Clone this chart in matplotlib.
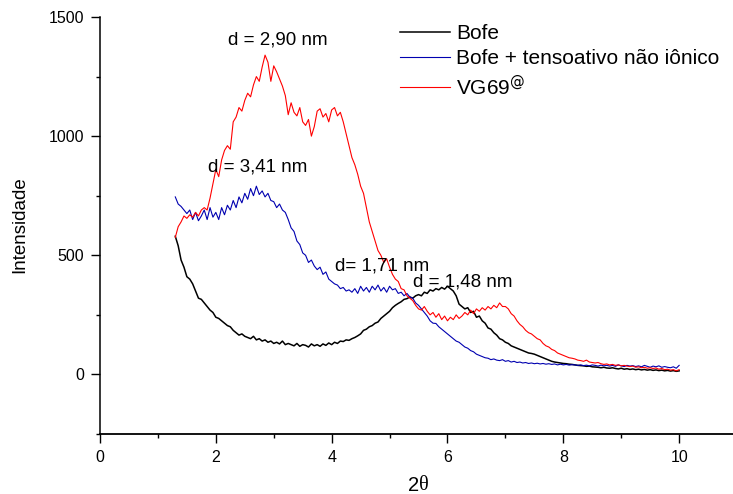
import numpy as np
import matplotlib.pyplot as plt
from matplotlib.ticker import MultipleLocator

plt.rcParams['font.family'] = ['Liberation Sans', 'DejaVu Sans']

# 2theta scan, 1.30 to 10.00 in 0.05 steps
bofe = [580, 540, 480, 450, 410, 400, 380, 350, 320, 315,
        300, 285, 270, 260, 240, 235, 225, 215, 205, 200,
        185, 175, 165, 170, 160, 155, 150, 160, 145, 150,
        140, 145, 135, 140, 130, 135, 128, 140, 125, 130,
        125, 120, 130, 118, 125, 122, 115, 128, 120, 125,
        118, 128, 122, 132, 125, 135, 130, 140, 138, 145,
        143, 150, 155, 162, 170, 185, 190, 200, 205, 215,
        220, 235, 245, 255, 265, 280, 290, 298, 305, 315,
        318, 325, 320, 330, 335, 330, 345, 340, 355, 350,
        360, 355, 365, 358, 370, 360, 350, 330, 295, 285,
        275, 280, 260, 265, 240, 245, 225, 215, 195, 190,
        175, 165, 150, 145, 135, 130, 120, 115, 110, 105,
        100, 95, 90, 88, 85, 80, 75, 70, 65, 60,
        55, 52, 50, 48, 46, 45, 43, 42, 40, 38,
        37, 36, 34, 35, 32, 31, 30, 28, 30, 27,
        26, 28, 25, 23, 26, 22, 24, 21, 23, 20,
        22, 19, 21, 18, 20, 17, 19, 16, 18, 15,
        17, 14, 16, 13, 15]

bofe_tensoativo = [745, 715, 705, 690, 675, 690, 650, 680, 645, 665,
                   690, 650, 700, 660, 680, 650, 700, 670, 710, 690,
                   730, 700, 745, 720, 760, 735, 780, 750, 790, 755,
                   770, 745, 760, 730, 725, 700, 715, 690, 680, 650,
                   615, 600, 560, 545, 510, 500, 470, 480, 455, 440,
                   450, 420, 430, 400, 390, 380, 375, 360, 365, 350,
                   355, 345, 360, 340, 370, 350, 365, 345, 370, 355,
                   375, 350, 365, 345, 370, 355, 360, 340, 345, 330,
                   340, 325, 320, 300, 290, 275, 260, 245, 225, 215,
                   214, 200, 190, 180, 170, 160, 150, 140, 135, 125,
                   115, 110, 100, 95, 85, 80, 75, 70, 68, 62,
                   65, 60, 58, 62, 55, 58, 52, 55, 50, 52,
                   48, 50, 46, 48, 45, 47, 44, 46, 43, 45,
                   42, 44, 40, 43, 40, 42, 39, 41, 40, 38,
                   40, 37, 39, 36, 40, 38, 35, 39, 36, 38,
                   35, 38, 34, 40, 36, 33, 38, 35, 37, 33,
                   36, 32, 38, 34, 30, 35, 32, 36, 30, 33,
                   30, 28, 32, 26, 38]

vg69 = [575, 620, 640, 665, 655, 670, 660, 680, 665, 690,
        700, 690, 740, 800, 860, 830, 900, 940, 960, 945,
        1060, 1080, 1120, 1105, 1150, 1180, 1165, 1215, 1250, 1230,
        1290, 1340, 1310, 1230, 1295, 1270, 1240, 1210, 1170, 1090,
        1140, 1100, 1085, 1120, 1060, 1045, 1070, 1000, 1040, 1105,
        1115, 1080, 1095, 1060, 1110, 1120, 1085, 1100, 1060, 1010,
        960, 910, 880, 840, 790, 760, 700, 640, 600, 560,
        520, 500, 470, 485, 450, 420, 400, 390, 360, 355,
        330, 320, 310, 290, 275, 270, 285, 265, 250, 260,
        240, 255, 230, 245, 225, 240, 230, 250, 235, 245,
        260, 250, 270, 255, 275, 265, 280, 270, 285, 275,
        290, 280, 300, 285, 285, 275, 255, 245, 225, 210,
        200, 185, 175, 170, 160, 150, 145, 130, 120, 115,
        105, 100, 90, 85, 80, 75, 70, 68, 65, 60,
        58, 55, 60, 52, 50, 48, 50, 45, 42, 44,
        40, 42, 38, 40, 36, 38, 35, 33, 35, 30,
        32, 28, 30, 26, 28, 25, 27, 22, 25, 20,
        22, 18, 20, 15, 20]

two_theta = np.linspace(1.3, 10.0, len(bofe))

labels = ['Bofe', 'Bofe + tensoativo não iônico', 'VG69$^{@}$']
peaks = ['d = 2,90 nm', 'd = 3,41 nm', 'd= 1,71 nm', 'd = 1,48 nm']
peak_pos = [(3.07, 1403), (2.72, 869), (4.88, 454), (6.26, 386)]

fig = plt.figure(figsize=(7.33, 4.94), dpi=100)
ax = fig.add_axes([100 / 733, 60 / 494, 633 / 733, 417 / 494])

ax.plot(two_theta, bofe, color='black', lw=1.1, label=labels[0])
ax.plot(two_theta, bofe_tensoativo, color='#0000b0', lw=0.8, label=labels[1])
ax.plot(two_theta, vg69, color='#ff0000', lw=0.8, label=labels[2])

for txt, (x, y) in zip(peaks, peak_pos):
    ax.text(x, y, txt, ha='center', va='center', fontsize=13.5)

ax.set_xlim(0, 10.93)
ax.set_ylim(-250, 1500)
ax.xaxis.set_major_locator(MultipleLocator(2))
ax.xaxis.set_minor_locator(MultipleLocator(1))
ax.yaxis.set_major_locator(MultipleLocator(500))
ax.yaxis.set_minor_locator(MultipleLocator(250))
ax.tick_params(which='major', length=6.5, width=1, labelsize=11.5,
               direction='out', pad=5)
ax.tick_params(which='minor', length=3, width=1, direction='out')

ax.spines['top'].set_visible(False)
ax.spines['right'].set_visible(False)
ax.spines['left'].set_linewidth(1.1)
ax.spines['bottom'].set_linewidth(1.3)

# axis titles placed like the original figure
fig.text(20 / 733, 1 - 225 / 494, 'Intensidade', rotation=90,
         ha='center', va='center', fontsize=13.5)
fig.text(419 / 733, 1 - 485 / 494, '2', ha='right', va='center', fontsize=14.5)
fig.text(419 / 733, 1 - 485 / 494, 'θ', ha='left', va='center', fontsize=14.5,
         family=['Liberation Serif', 'DejaVu Serif'])

ax.legend(loc='upper left', bbox_to_anchor=(400 / 733, 1 - 24 / 494),
          bbox_transform=fig.transFigure, frameon=False, fontsize=15,
          handlelength=2.4, handletextpad=0.3, borderpad=0, borderaxespad=0,
          labelspacing=0.3)

fig.savefig('out.png', dpi=100)
